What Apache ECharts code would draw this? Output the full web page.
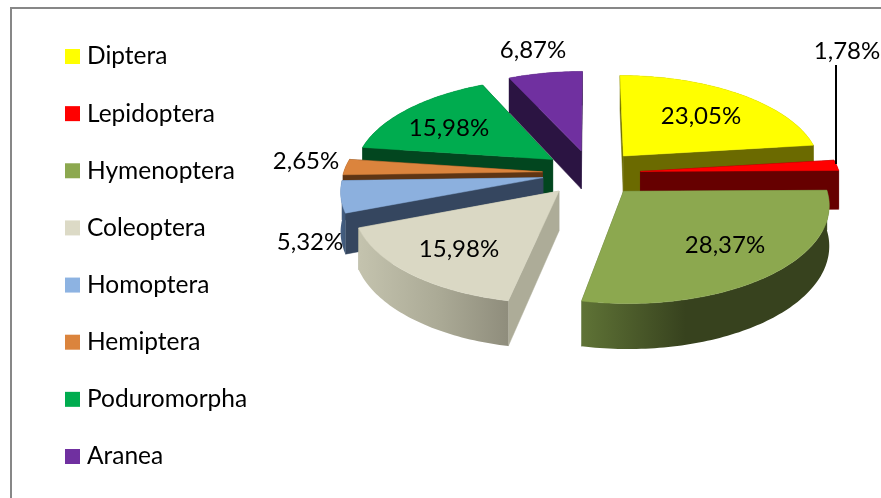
<!DOCTYPE html>
<html>
<head>
<meta charset="utf-8">
<style>html,body{margin:0;padding:0;background:#fff}#c{width:881px;height:498px}</style>
<script src="https://cdn.jsdelivr.net/npm/echarts@6/dist/echarts.min.js"></script>
</head>
<body>
<div id="c"></div>
<script>
// Data
const categories = ['Diptera','Lepidoptera','Hymenoptera','Coleoptera','Homoptera','Hemiptera','Poduromorpha','Aranea'];
const percents = [23.05,1.78,28.37,15.98,5.32,2.65,15.98,6.87];

// Styling
const topColors = ['#ffff00','#ff0000','#8ca84f','#dad8c4','#8cb0de','#db843d','#00ac4f','#7030a0'];
const legendColors = ['#ffff00','#ff0000','#8ca84f','#dcdac6','#8db3e2','#db843d','#00ac4f','#7030a0'];
const wallColors = ['#6b6a00','#660000','#55682f','#adac98','#35465f','#5e3514','#02461f','#2b1442'];
const arcStops = [
  [['#6b6a00',0],['#6b6a00',1]],
  [['#660000',0],['#660000',1]],
  [['#5f7336',0],['#37421e',0.42],['#37421e',1]],
  [['#c4c3ae',0],['#aaa995',0.55],['#8f8d7c',1]],
  [['#466084',0],['#3f5878',1]],
  [['#5e3514',0],['#5e3514',1]],
  [['#02461f',0],['#02461f',1]],
  [['#2b1442',0],['#2b1442',1]]
];
const drawOrder = [7,0,1,6,5,4,3,2];
const labelAt = [[701,116],[847,51],[725,245],[459,249],[310,242],[306,161],[449,128],[533,50]];
const leader = [[836,65],[836,164]];

// Projection of the tilted, exploded disc
const view = {cx:591.5, cy:173, rx:199, ry:94, k:0.12, explode:0.247, depth:39};
const FONT = 'Lato';

function project(u, v, down) {
  const s = 1 / (1 - view.k * v);
  return [view.cx + view.rx * u * s, view.cy + view.ry * v * s + (down ? view.depth * s : 0)];
}
function sliceGeometry(i) {
  let before = 0;
  for (let j = 0; j < i; j++) before += percents[j];
  const a0 = before / 100 * 2 * Math.PI, a1 = (before + percents[i]) / 100 * 2 * Math.PI;
  const mid = (a0 + a1) / 2;
  const ou = view.explode * Math.sin(mid), ov = -view.explode * Math.cos(mid);
  const rim = [];
  const n = Math.max(4, Math.ceil((a1 - a0) / 0.02));
  for (let t = 0; t <= n; t++) {
    const a = a0 + (a1 - a0) * t / n;
    rim.push([ou + Math.sin(a), ov - Math.cos(a)]);
  }
  return {apex:[ou, ov], rim};
}
function renderSlice(i) {
  return function () {
    const g = sliceGeometry(i);
    const A = g.apex, R = g.rim;
    const pt = (p, d) => project(p[0], p[1], d);
    const wall = (pts) => pts.map(p => pt(p, false)).concat(pts.slice().reverse().map(p => pt(p, true)));
    const meanV = (pts) => pts.reduce((s, p) => s + p[1], 0) / pts.length;
    const walls = [
      {pts:[A, R[0]], fill:wallColors[i]},
      {pts:[A, R[R.length - 1]], fill:wallColors[i]},
      {pts:R, fill:{type:'linear', x:0, y:0, x2:1, y2:0,
        colorStops:arcStops[i].map(s => ({color:s[0], offset:s[1]}))}, arc:true}
    ].sort((a, b) => meanV(a.pts) - meanV(b.pts));
    const children = walls.map(w => ({
      type:'polygon', shape:{points:wall(w.pts)},
      style:{fill:w.fill, stroke:w.arc ? null : w.fill, lineWidth:w.arc ? 0 : 0.5}
    }));
    children.push({
      type:'polygon', shape:{points:[pt(A, false)].concat(R.map(p => pt(p, false)))},
      style:{fill:topColors[i], stroke:topColors[i], lineWidth:0.5}
    });
    if (categories[i] === 'Lepidoptera') {
      children.push({type:'line', shape:{x1:leader[0][0], y1:leader[0][1], x2:leader[1][0], y2:leader[1][1]},
        style:{stroke:'#000', lineWidth:2}});
    }
    children.push({
      type:'text', x:labelAt[i][0], y:labelAt[i][1],
      style:{text:percents[i].toFixed(2).replace('.', ',') + '%', fill:'#000',
        font:'24px ' + FONT, align:'center', verticalAlign:'middle'}
    });
    return {type:'group', children};
  };
}

const chart = echarts.init(document.getElementById('c'), null, {renderer:'canvas'});
chart.setOption({
  animation:false,
  backgroundColor:'#fff',
  color:legendColors,
  legend:{
    orient:'vertical', left:60, top:39, itemWidth:15, itemHeight:15, itemGap:32.14,
    icon:'rect', selectedMode:false, data:categories,
    textStyle:{fontFamily:FONT, fontSize:24.5, color:'#000', lineHeight:24, height:24, padding:[0,0,0,2]}
  },
  graphic:[{type:'rect', silent:true, z:-1, shape:{x:11, y:8, width:1000, height:800},
    style:{fill:'#fff', stroke:'#878787', lineWidth:2}}],
  series:categories.map((name, i) => ({
    type:'custom', name, coordinateSystem:'none', silent:true,
    z:2 + drawOrder.indexOf(i),
    itemStyle:{color:legendColors[i]},
    data:[[percents[i]]],
    renderItem:renderSlice(i)
  }))
});
</script>
</body>
</html>
